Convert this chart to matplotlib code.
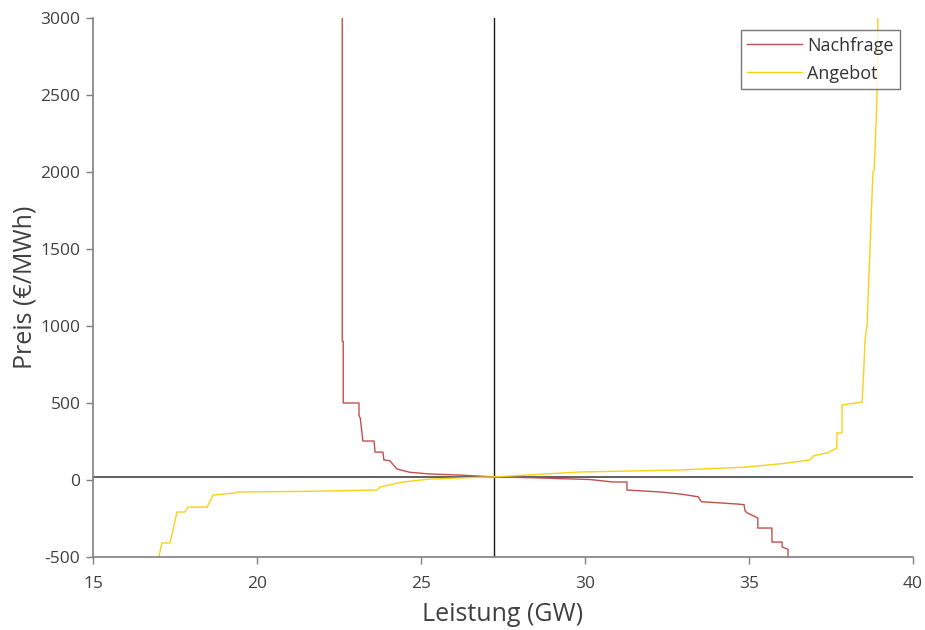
import matplotlib.pyplot as plt

plt.rcParams['font.family'] = ['Open Sans', 'DejaVu Sans']
plt.rcParams['axes.unicode_minus'] = False

# Nachfrage (demand) step curve: Leistung in GW, Preis in EUR/MWh
demand_gw = [22.60, 22.60, 22.63, 22.63, 23.11, 23.11, 23.15, 23.23, 23.57, 23.60,
             23.84, 23.87, 24.05, 24.27, 24.66, 25.27, 26.19, 27.23, 28.50, 30.15,
             30.85, 31.28, 31.28, 32.30, 32.90, 33.45, 33.55, 34.63, 34.85, 34.88,
             34.95, 35.27, 35.27, 35.70, 35.70, 36.01, 36.01, 36.19, 36.19]
demand_price = [3000, 900, 900, 500, 500, 420, 400, 253, 253, 181,
                181, 130, 125, 71, 50, 39, 32, 20, 14, 3,
                -13, -13, -65, -78, -91, -109, -141, -156, -160, -200,
                -214, -247, -312, -312, -403, -403, -435, -450, -500]

# Angebot (supply) step curve
supply_gw = [17.01, 17.10, 17.35, 17.56, 17.80, 17.90, 18.48, 18.66, 19.33, 19.42,
             21.50, 23.66, 23.75, 24.45, 25.27, 26.30, 27.23, 29.85, 32.90, 34.94,
             36.16, 36.86, 36.95, 37.07, 37.38, 37.68, 37.68, 37.84, 37.84, 38.45,
             38.48, 38.54, 38.60, 38.78, 38.82, 38.90, 38.93]
supply_price = [-500, -409, -409, -208, -208, -176, -176, -98, -85, -78,
                -74, -65, -46, -13, 6, 14, 20, 52, 65, 84,
                110, 130, 155, 162, 175, 207, 305, 305, 487, 506,
                629, 908, 1006, 2000, 2013, 2466, 3000]

# Gleichgewicht
eq_gw = 27.23
eq_price = 20

fig = plt.figure(figsize=(9.25, 6.3), dpi=100)
ax = fig.add_axes([0.1005, 0.1159, 0.8865, 0.8555])

ax.plot(demand_gw, demand_price, color='#c0504d', lw=1.0, label='Nachfrage')
ax.plot(supply_gw, supply_price, color='#f7d117', lw=1.0, label='Angebot')
ax.axvline(eq_gw, color='#1a1a1a', lw=1.0, zorder=1)
ax.axhline(eq_price, color='#444444', lw=1.2, zorder=1)

ax.set_xlim(15, 40)
ax.set_ylim(-500, 3000)
ax.set_xticks(range(15, 41, 5))
ax.set_yticks(range(-500, 3001, 500))

for side in ['top', 'right']:
    ax.spines[side].set_visible(False)
for side in ['left', 'bottom']:
    ax.spines[side].set_color('#7f7f7f')
    ax.spines[side].set_linewidth(1.2)
ax.tick_params(axis='both', direction='out', length=5, width=1, color='#7f7f7f',
               labelsize=12.5, labelcolor='#404040')
ax.tick_params(axis='x', pad=9)
ax.tick_params(axis='y', pad=4)

ax.set_xlabel('Leistung (GW)', fontsize=18, color='#404040', labelpad=7)
ax.set_ylabel('Preis (€/MWh)', fontsize=18, color='#404040', labelpad=2)

leg = ax.legend(loc='upper right', bbox_to_anchor=(0.984, 0.977), fontsize=13,
                frameon=True, fancybox=False, handlelength=3.0, handletextpad=0.3,
                borderpad=0.35, labelspacing=0.55, borderaxespad=0)
leg.get_frame().set_edgecolor('#555555')
leg.get_frame().set_linewidth(1.0)
for t in leg.get_texts():
    t.set_color('#333333')

fig.savefig('out.png', dpi=100)
